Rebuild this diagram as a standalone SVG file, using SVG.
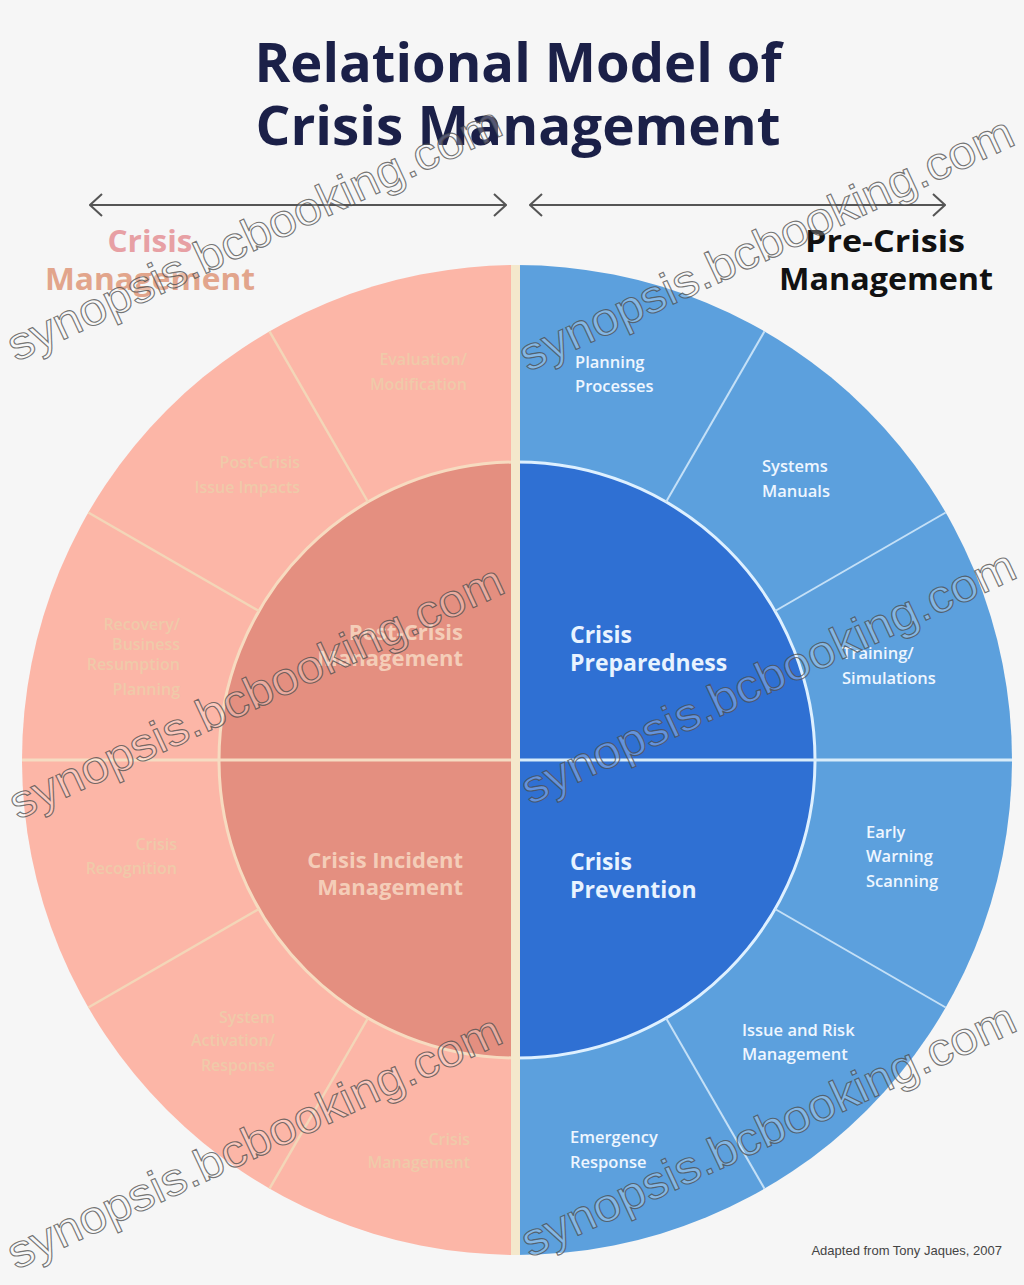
<svg xmlns="http://www.w3.org/2000/svg" width="1024" height="1285" viewBox="0 0 1024 1285">
<defs>
<marker id="chev" viewBox="0 0 14 24" refX="13" refY="12" markerWidth="14" markerHeight="24" markerUnits="userSpaceOnUse" orient="auto-start-reverse">
<path d="M1,1 L13,12 L1,23" fill="none" stroke="#555" stroke-width="2"/>
</marker>
<style>
.title{font-family:"Open Sans","Liberation Sans",sans-serif;font-weight:700;font-size:54px;fill:#1b2048}
.side{font-family:"Open Sans","Liberation Sans",sans-serif;font-weight:700;font-size:31px}
.inR{font-family:"Open Sans","Liberation Sans",sans-serif;font-weight:700;font-size:23px;fill:#e8f3ff}
.inL{font-family:"Open Sans","Liberation Sans",sans-serif;font-weight:700;font-size:22px;fill:#f4cdb8;text-anchor:end}
.outR{font-family:"Open Sans","Liberation Sans",sans-serif;font-weight:600;font-size:16.5px;fill:#eef6ff}
.outL{font-family:"Open Sans","Liberation Sans",sans-serif;font-weight:600;font-size:16px;fill:#efcaa9;text-anchor:end}
.segL{stroke:#f3d6b8;stroke-width:2.5;fill:none}
.segR{stroke:#c4e0f7;stroke-width:2;fill:none}
.wm{font-family:"Liberation Sans",sans-serif;font-size:46px;fill:#ffffff;fill-opacity:0.25;stroke:#4a4a4a;stroke-width:1.1;stroke-opacity:0.75}
</style>
</defs>
<rect width="1024" height="1285" fill="#f6f6f6"/>

<g id="title">
<text class="title" x="518" y="82" text-anchor="middle" textLength="527" lengthAdjust="spacingAndGlyphs">Relational Model of</text>
<text class="title" x="518" y="145" text-anchor="middle" textLength="525" lengthAdjust="spacingAndGlyphs">Crisis Management</text>
</g>

<g id="connectors">
<line x1="90" y1="205" x2="506" y2="205" stroke="#555" stroke-width="2" marker-start="url(#chev)" marker-end="url(#chev)"/>
<line x1="530" y1="205" x2="945" y2="205" stroke="#555" stroke-width="2" marker-start="url(#chev)" marker-end="url(#chev)"/>
</g>

<g id="label-crisis-management">
<text class="side" x="150" y="252" text-anchor="middle" fill="#e7a0a4" textLength="85" lengthAdjust="spacingAndGlyphs">Crisis</text>
<text class="side" x="150" y="290" text-anchor="middle" fill="#e2a58c" textLength="210" lengthAdjust="spacingAndGlyphs">Management</text>
</g>
<g id="label-pre-crisis-management">
<text class="side" x="885" y="252" text-anchor="middle" fill="#111" textLength="160" lengthAdjust="spacingAndGlyphs">Pre-Crisis</text>
<text class="side" x="886" y="290" text-anchor="middle" fill="#111" textLength="214" lengthAdjust="spacingAndGlyphs">Management</text>
</g>

<g id="wheel">
<path d="M517,265 A495,495 0 0 0 517,1255 Z" fill="#fcb6a7"/>
<path d="M517,265 A495,495 0 0 1 517,1255 Z" fill="#5ca0dd"/>
<path d="M517,462 A298,298 0 0 0 517,1058 Z" fill="#e48f80"/>
<path d="M517,462 A298,298 0 0 1 517,1058 Z" fill="#2f70d3"/>
<path d="M517,462 A298,298 0 0 0 517,1058" fill="none" stroke="#f7dbc0" stroke-width="3"/>
<path d="M517,462 A298,298 0 0 1 517,1058" fill="none" stroke="#def0ff" stroke-width="3"/>
<line x1="22" y1="760" x2="512" y2="760" stroke="#f5dcc2" stroke-width="3"/>
<line x1="520" y1="760" x2="1012" y2="760" stroke="#d8ecfa" stroke-width="3"/>
<line class="segL" x1="368" y1="502" x2="269.5" y2="331.3"/>
<line class="segL" x1="258.9" y1="611" x2="88.3" y2="512.5"/>
<line class="segL" x1="258.9" y1="909" x2="88.3" y2="1007.5"/>
<line class="segL" x1="368" y1="1018" x2="269.5" y2="1188.7"/>
<line class="segR" x1="666" y1="502" x2="764.5" y2="331.3"/>
<line class="segR" x1="775.1" y1="611" x2="945.7" y2="512.5"/>
<line class="segR" x1="775.1" y1="909" x2="945.7" y2="1007.5"/>
<line class="segR" x1="666" y1="1018" x2="764.5" y2="1188.7"/>
<rect x="511" y="265" width="9" height="990" fill="#f4e8cc"/>
</g>

<g id="node-post-crisis-management">
<text class="inL" x="463" y="640">Post-Crisis</text>
<text class="inL" x="463" y="666">Management</text>
</g>
<g id="node-crisis-incident-management">
<text class="inL" x="463" y="868">Crisis Incident</text>
<text class="inL" x="463" y="895">Management</text>
</g>
<g id="node-crisis-preparedness">
<text class="inR" x="570" y="643">Crisis</text>
<text class="inR" x="570" y="671">Preparedness</text>
</g>
<g id="node-crisis-prevention">
<text class="inR" x="570" y="870">Crisis</text>
<text class="inR" x="570" y="898">Prevention</text>
</g>

<g id="node-evaluation">
<text class="outL" x="467" y="365">Evaluation/</text>
<text class="outL" x="467" y="390">Modification</text>
</g>
<g id="node-issue-impacts">
<text class="outL" x="300" y="468">Post-Crisis</text>
<text class="outL" x="300" y="493">Issue Impacts</text>
</g>
<g id="node-recovery">
<text class="outL" x="180" y="630">Recovery/</text>
<text class="outL" x="180" y="650">Business</text>
<text class="outL" x="180" y="670">Resumption</text>
<text class="outL" x="180" y="695">Planning</text>
</g>
<g id="node-recognition">
<text class="outL" x="177" y="850">Crisis</text>
<text class="outL" x="177" y="874">Recognition</text>
</g>
<g id="node-activation">
<text class="outL" x="275" y="1023">System</text>
<text class="outL" x="275" y="1046">Activation/</text>
<text class="outL" x="275" y="1071">Response</text>
</g>
<g id="node-crisis-response">
<text class="outL" x="470" y="1145">Crisis</text>
<text class="outL" x="470" y="1168">Management</text>
</g>

<g id="node-planning">
<text class="outR" x="575" y="368">Planning</text>
<text class="outR" x="575" y="392">Processes</text>
</g>
<g id="node-systems">
<text class="outR" x="762" y="472">Systems</text>
<text class="outR" x="762" y="497">Manuals</text>
</g>
<g id="node-training">
<text class="outR" x="842" y="659">Training/</text>
<text class="outR" x="842" y="684">Simulations</text>
</g>
<g id="node-early-warning">
<text class="outR" x="866" y="838">Early</text>
<text class="outR" x="866" y="862">Warning</text>
<text class="outR" x="866" y="887">Scanning</text>
</g>
<g id="node-issue-risk">
<text class="outR" x="742" y="1036">Issue and Risk</text>
<text class="outR" x="742" y="1060">Management</text>
</g>
<g id="node-emergency">
<text class="outR" x="570" y="1143">Emergency</text>
<text class="outR" x="570" y="1168">Response</text>
</g>

<g id="credit">
<text x="1002" y="1255" text-anchor="end" font-family="Liberation Sans, sans-serif" font-size="13" fill="#444">Adapted from Tony Jaques, 2007</text>
</g>

<g id="watermarks">
<text class="wm" transform="translate(16,362) rotate(-25)" textLength="540" lengthAdjust="spacingAndGlyphs">synopsis.bcbooking.com</text>
<text class="wm" transform="translate(528,372) rotate(-25)" textLength="540" lengthAdjust="spacingAndGlyphs">synopsis.bcbooking.com</text>
<text class="wm" transform="translate(18,820) rotate(-25)" textLength="540" lengthAdjust="spacingAndGlyphs">synopsis.bcbooking.com</text>
<text class="wm" transform="translate(530,805) rotate(-25)" textLength="540" lengthAdjust="spacingAndGlyphs">synopsis.bcbooking.com</text>
<text class="wm" transform="translate(16,1270) rotate(-25)" textLength="540" lengthAdjust="spacingAndGlyphs">synopsis.bcbooking.com</text>
<text class="wm" transform="translate(530,1258) rotate(-25)" textLength="540" lengthAdjust="spacingAndGlyphs">synopsis.bcbooking.com</text>
</g>
</svg>
